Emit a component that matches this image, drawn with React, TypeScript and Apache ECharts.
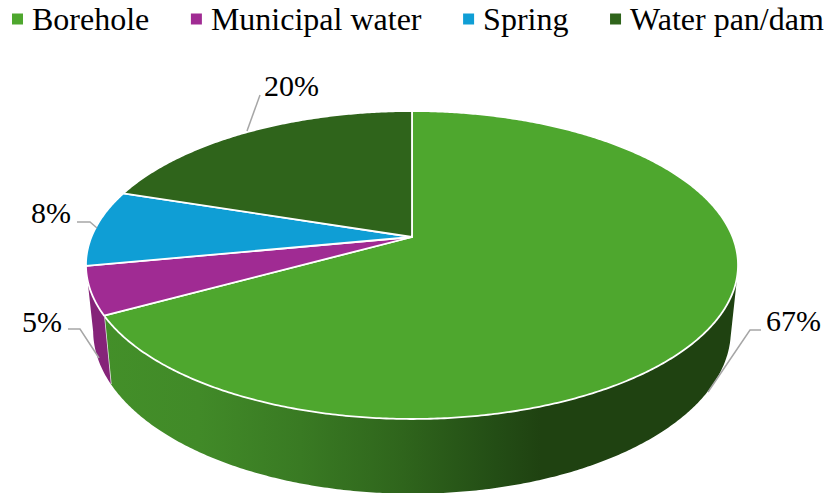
import React, { useEffect, useRef } from "react";
import * as echarts from "echarts";

const categories = ["Borehole", "Municipal water", "Spring", "Water pan/dam"];
const shares = [67, 5, 8, 20];
const topColors = ["#4ea72e", "#a02b93", "#0f9ed5", "#2f641b"];

const FONT = '"Liberation Serif", "Times New Roman", serif';
const total = shares.reduce((a, b) => a + b, 0);

// Perspective projection of the pie disc (top face and bottom face).
const CX = 412;
const TOP = { cy: 237, a: 148.9, b: 320.6, k: 0.1818, sx: 1, sy: 1 };
const BOTTOM = { cy: 300.8, a: 148.9, b: 320.6, k: 0.1818, sx: 0.978, sy: 1.06 };
type Face = typeof TOP;

function project(face: Face, deg: number): number[] {
  const r = (deg * Math.PI) / 180;
  const u = Math.sin(r);
  const v = Math.cos(r);
  const d = 1 + face.k * v;
  return [CX + (face.sx * face.b * u) / d, face.cy - (face.sy * face.a * v) / d];
}

function arc(face: Face, from: number, to: number): number[][] {
  const n = Math.max(2, Math.ceil(Math.abs(to - from) * 2));
  const pts: number[][] = [];
  for (let i = 0; i <= n; i++) pts.push(project(face, from + ((to - from) * i) / n));
  return pts;
}

const WALL_LIMIT_RIGHT = 103;
const WALL_LIMIT_LEFT = 259.2;

function wallStyle(index: number): any {
  if (index === 0) {
    return new echarts.graphic.LinearGradient(
      0, 0, 1, 0,
      [
        { offset: 0, color: "#438f29" },
        { offset: 0.15, color: "#418a28" },
        { offset: 0.31, color: "#397a23" },
        { offset: 0.47, color: "#2f651c" },
        { offset: 0.62, color: "#234d15" },
        { offset: 0.69, color: "#1f4211" },
        { offset: 1, color: "#1f4211" },
      ],
      false
    );
  }
  return "#852479";
}

// Leader line and label placement, one per category.
const labelLayout = [
  { tx: 766, ty: 320, line: [[761, 330], [750, 330], [708, 392]] },
  { tx: 22, ty: 321, line: [[68, 329], [80, 329], [99, 358]] },
  { tx: 31, ty: 212, line: [[77, 222], [90, 222], [97, 228]] },
  { tx: 264, ty: 85, line: [[260, 95], [247, 131]] },
];

function makeSeries(index: number): any {
  const before = shares.slice(0, index).reduce((a, b) => a + b, 0);
  const start = (before / total) * 360;
  const end = ((before + shares[index]) / total) * 360;
  return {
    type: "custom",
    name: categories[index],
    coordinateSystem: "none",
    itemStyle: { color: topColors[index] },
    data: [[shares[index]]],
    silent: true,
    renderItem: () => {
      const children: any[] = [];
      const wallFrom = Math.max(start, WALL_LIMIT_RIGHT);
      const wallTo = Math.min(end, WALL_LIMIT_LEFT);
      if (wallFrom < wallTo && index < 2) {
        const topArc = arc(TOP, wallFrom, wallTo);
        const botArc = arc(BOTTOM, wallTo, wallFrom);
        children.push({
          type: "polygon",
          shape: { points: topArc.concat(botArc) },
          style: { fill: wallStyle(index), stroke: "none" },
        });
        const edge = [project(TOP, wallTo), project(BOTTOM, wallTo)];
        if (index === 0) {
          children.push({
            type: "polyline",
            shape: { points: edge },
            style: { stroke: "#e8e8e8", lineWidth: 1.5, fill: "none" },
          });
        }
      }
      children.push({
        type: "polygon",
        shape: { points: [[CX, TOP.cy]].concat(arc(TOP, start, end)) },
        style: { fill: topColors[index], stroke: "#ffffff", lineWidth: 1.8, lineJoin: "round" },
      });
      const lay = labelLayout[index];
      children.push({
        type: "polyline",
        shape: { points: lay.line },
        style: { stroke: "#a6a6a6", lineWidth: 1.5, fill: "none" },
      });
      children.push({
        type: "text",
        style: {
          x: lay.tx,
          y: lay.ty,
          text: `${shares[index]}%`,
          font: `30px ${FONT}`,
          fill: "#000000",
          textVerticalAlign: "middle",
          verticalAlign: "middle",
        },
      });
      return { type: "group", children };
    },
  };
}

export default function App() {
  const ref = useRef<HTMLDivElement>(null);
  useEffect(() => {
    document.body.style.margin = "0";
    const chart = echarts.init(ref.current!, undefined, { renderer: "svg" });
    chart.setOption({
      animation: false,
      backgroundColor: "#ffffff",
      legend: {
        data: categories,
        left: 12,
        top: 3,
        padding: 0,
        icon: "rect",
        itemWidth: 11,
        itemHeight: 11,
        itemGap: 41.6,
        selectedMode: false,
        textStyle: {
          fontFamily: FONT,
          fontSize: 32,
          color: "#000000",
          padding: [0, 0, 0, 4],
        },
      },
      series: categories.map((_, i) => makeSeries(i)),
    });
    return () => chart.dispose();
  }, []);
  return <div ref={ref} style={{ width: 830, height: 493 }} />;
}
